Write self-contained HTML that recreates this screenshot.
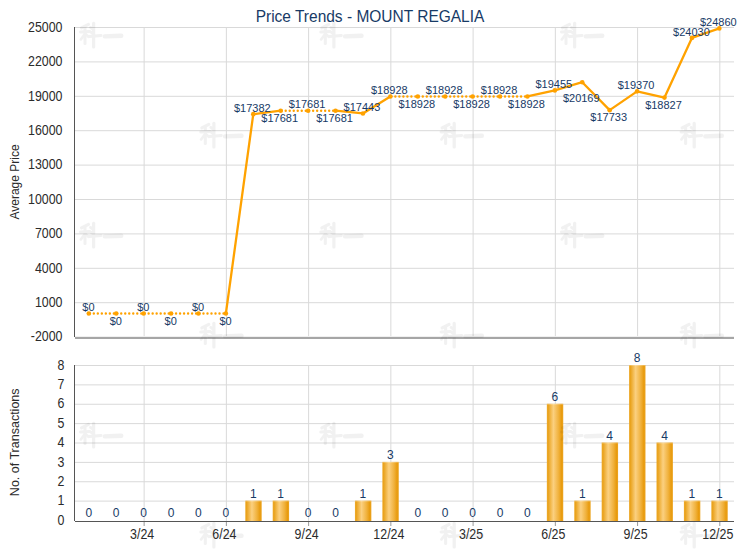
<!DOCTYPE html><html><head><meta charset="utf-8"><style>html,body{margin:0;padding:0;background:#fff;width:740px;height:550px;overflow:hidden}svg{display:block}text{font-family:"Liberation Sans", sans-serif}</style></head><body>
<svg width="740" height="550" viewBox="0 0 740 550">
<defs><linearGradient id="bg" x1="0" x2="1" y1="0" y2="0"><stop offset="0" stop-color="#eeab2e"/><stop offset="0.08" stop-color="#e9a21c"/><stop offset="0.40" stop-color="#fbd080"/><stop offset="0.72" stop-color="#f0b13c"/><stop offset="0.9" stop-color="#e89b0e"/><stop offset="1" stop-color="#eca523"/></linearGradient><g id="wm" fill="none" stroke="#000" stroke-linecap="round" stroke-linejoin="round"><path d="M8.5 2 L1.5 5.5" stroke-width="3"/><path d="M0.5 9.5 L9.5 9" stroke-width="3"/><path d="M5 5 L5 21" stroke-width="3"/><path d="M4.5 12 L0.8 17" stroke-width="2.6"/><path d="M6 12 L8.5 14.5" stroke-width="2.6"/><path d="M10.5 5 L12.5 6.5 M10.5 9.5 L12.5 11" stroke-width="2.8"/><path d="M9 14 L21 13" stroke-width="3"/><path d="M13.6 1 L13.6 24.5" stroke-width="3.2"/><path d="M24.8 14 L41.2 13.4" stroke-width="4.4"/></g></defs>
<line x1="75" y1="27.50" x2="734.0" y2="27.50" stroke="#d9d9d9" stroke-width="1"/>
<line x1="75" y1="61.90" x2="734.0" y2="61.90" stroke="#d9d9d9" stroke-width="1"/>
<line x1="75" y1="96.30" x2="734.0" y2="96.30" stroke="#d9d9d9" stroke-width="1"/>
<line x1="75" y1="130.70" x2="734.0" y2="130.70" stroke="#d9d9d9" stroke-width="1"/>
<line x1="75" y1="165.10" x2="734.0" y2="165.10" stroke="#d9d9d9" stroke-width="1"/>
<line x1="75" y1="199.50" x2="734.0" y2="199.50" stroke="#d9d9d9" stroke-width="1"/>
<line x1="75" y1="233.90" x2="734.0" y2="233.90" stroke="#d9d9d9" stroke-width="1"/>
<line x1="75" y1="268.30" x2="734.0" y2="268.30" stroke="#d9d9d9" stroke-width="1"/>
<line x1="75" y1="302.70" x2="734.0" y2="302.70" stroke="#d9d9d9" stroke-width="1"/>
<line x1="75" y1="337.10" x2="734.0" y2="337.10" stroke="#d9d9d9" stroke-width="1"/>
<line x1="144.13" y1="27.5" x2="144.13" y2="336.1" stroke="#d9d9d9" stroke-width="1"/>
<line x1="226.37" y1="27.5" x2="226.37" y2="336.1" stroke="#d9d9d9" stroke-width="1"/>
<line x1="308.61" y1="27.5" x2="308.61" y2="336.1" stroke="#d9d9d9" stroke-width="1"/>
<line x1="390.85" y1="27.5" x2="390.85" y2="336.1" stroke="#d9d9d9" stroke-width="1"/>
<line x1="473.10" y1="27.5" x2="473.10" y2="336.1" stroke="#d9d9d9" stroke-width="1"/>
<line x1="555.34" y1="27.5" x2="555.34" y2="336.1" stroke="#d9d9d9" stroke-width="1"/>
<line x1="637.58" y1="27.5" x2="637.58" y2="336.1" stroke="#d9d9d9" stroke-width="1"/>
<line x1="719.82" y1="27.5" x2="719.82" y2="336.1" stroke="#d9d9d9" stroke-width="1"/>
<line x1="75" y1="365.50" x2="734.0" y2="365.50" stroke="#d9d9d9" stroke-width="1"/>
<line x1="75" y1="384.88" x2="734.0" y2="384.88" stroke="#d9d9d9" stroke-width="1"/>
<line x1="75" y1="404.25" x2="734.0" y2="404.25" stroke="#d9d9d9" stroke-width="1"/>
<line x1="75" y1="423.62" x2="734.0" y2="423.62" stroke="#d9d9d9" stroke-width="1"/>
<line x1="75" y1="443.00" x2="734.0" y2="443.00" stroke="#d9d9d9" stroke-width="1"/>
<line x1="75" y1="462.38" x2="734.0" y2="462.38" stroke="#d9d9d9" stroke-width="1"/>
<line x1="75" y1="481.75" x2="734.0" y2="481.75" stroke="#d9d9d9" stroke-width="1"/>
<line x1="75" y1="501.12" x2="734.0" y2="501.12" stroke="#d9d9d9" stroke-width="1"/>
<line x1="144.13" y1="365.5" x2="144.13" y2="521.0" stroke="#d9d9d9" stroke-width="1"/>
<line x1="226.37" y1="365.5" x2="226.37" y2="521.0" stroke="#d9d9d9" stroke-width="1"/>
<line x1="308.61" y1="365.5" x2="308.61" y2="521.0" stroke="#d9d9d9" stroke-width="1"/>
<line x1="390.85" y1="365.5" x2="390.85" y2="521.0" stroke="#d9d9d9" stroke-width="1"/>
<line x1="473.10" y1="365.5" x2="473.10" y2="521.0" stroke="#d9d9d9" stroke-width="1"/>
<line x1="555.34" y1="365.5" x2="555.34" y2="521.0" stroke="#d9d9d9" stroke-width="1"/>
<line x1="637.58" y1="365.5" x2="637.58" y2="521.0" stroke="#d9d9d9" stroke-width="1"/>
<line x1="719.82" y1="365.5" x2="719.82" y2="521.0" stroke="#d9d9d9" stroke-width="1"/>
<rect x="245.28" y="500.62" width="16.40" height="20.88" fill="url(#bg)"/>
<rect x="245.28" y="500.62" width="16.40" height="1" fill="#ffffff" fill-opacity="0.25"/>
<rect x="272.70" y="500.62" width="16.40" height="20.88" fill="url(#bg)"/>
<rect x="272.70" y="500.62" width="16.40" height="1" fill="#ffffff" fill-opacity="0.25"/>
<rect x="354.94" y="500.62" width="16.40" height="20.88" fill="url(#bg)"/>
<rect x="354.94" y="500.62" width="16.40" height="1" fill="#ffffff" fill-opacity="0.25"/>
<rect x="382.35" y="461.88" width="16.40" height="59.62" fill="url(#bg)"/>
<rect x="382.35" y="461.88" width="16.40" height="1" fill="#ffffff" fill-opacity="0.25"/>
<rect x="546.84" y="403.75" width="16.40" height="117.75" fill="url(#bg)"/>
<rect x="546.84" y="403.75" width="16.40" height="1" fill="#ffffff" fill-opacity="0.25"/>
<rect x="574.25" y="500.62" width="16.40" height="20.88" fill="url(#bg)"/>
<rect x="574.25" y="500.62" width="16.40" height="1" fill="#ffffff" fill-opacity="0.25"/>
<rect x="601.67" y="442.50" width="16.40" height="79.00" fill="url(#bg)"/>
<rect x="601.67" y="442.50" width="16.40" height="1" fill="#ffffff" fill-opacity="0.25"/>
<rect x="629.08" y="365.00" width="16.40" height="156.50" fill="url(#bg)"/>
<rect x="629.08" y="365.00" width="16.40" height="1" fill="#ffffff" fill-opacity="0.25"/>
<rect x="656.49" y="442.50" width="16.40" height="79.00" fill="url(#bg)"/>
<rect x="656.49" y="442.50" width="16.40" height="1" fill="#ffffff" fill-opacity="0.25"/>
<rect x="683.91" y="500.62" width="16.40" height="20.88" fill="url(#bg)"/>
<rect x="683.91" y="500.62" width="16.40" height="1" fill="#ffffff" fill-opacity="0.25"/>
<rect x="711.32" y="500.62" width="16.40" height="20.88" fill="url(#bg)"/>
<rect x="711.32" y="500.62" width="16.40" height="1" fill="#ffffff" fill-opacity="0.25"/>
<line x1="74.5" y1="27" x2="74.5" y2="337" stroke="#555555" stroke-width="1"/>
<line x1="75" y1="338" x2="734.0" y2="338" stroke="#a6a6a6" stroke-width="2"/>
<line x1="144.13" y1="522" x2="144.13" y2="526" stroke="#9a9a9a" stroke-width="1"/>
<line x1="226.37" y1="522" x2="226.37" y2="526" stroke="#9a9a9a" stroke-width="1"/>
<line x1="308.61" y1="522" x2="308.61" y2="526" stroke="#9a9a9a" stroke-width="1"/>
<line x1="390.85" y1="522" x2="390.85" y2="526" stroke="#9a9a9a" stroke-width="1"/>
<line x1="473.10" y1="522" x2="473.10" y2="526" stroke="#9a9a9a" stroke-width="1"/>
<line x1="555.34" y1="522" x2="555.34" y2="526" stroke="#9a9a9a" stroke-width="1"/>
<line x1="637.58" y1="522" x2="637.58" y2="526" stroke="#9a9a9a" stroke-width="1"/>
<line x1="719.82" y1="522" x2="719.82" y2="526" stroke="#9a9a9a" stroke-width="1"/>
<line x1="74.5" y1="365" x2="74.5" y2="521" stroke="#555555" stroke-width="1"/>
<line x1="75" y1="521.5" x2="734.0" y2="521.5" stroke="#555555" stroke-width="1"/>
<line x1="88.80" y1="313.47" x2="116.21" y2="313.47" stroke="#ffa200" stroke-width="2.4" stroke-dasharray="0.01 4" stroke-linecap="round" stroke-dashoffset="-1"/>
<line x1="116.21" y1="313.47" x2="143.63" y2="313.47" stroke="#ffa200" stroke-width="2.4" stroke-dasharray="0.01 4" stroke-linecap="round" stroke-dashoffset="-1"/>
<line x1="143.63" y1="313.47" x2="171.04" y2="313.47" stroke="#ffa200" stroke-width="2.4" stroke-dasharray="0.01 4" stroke-linecap="round" stroke-dashoffset="-1"/>
<line x1="171.04" y1="313.47" x2="198.46" y2="313.47" stroke="#ffa200" stroke-width="2.4" stroke-dasharray="0.01 4" stroke-linecap="round" stroke-dashoffset="-1"/>
<line x1="198.46" y1="313.47" x2="225.87" y2="313.47" stroke="#ffa200" stroke-width="2.4" stroke-dasharray="0.01 4" stroke-linecap="round" stroke-dashoffset="-1"/>
<line x1="225.87" y1="313.47" x2="253.28" y2="114.15" stroke="#ffa200" stroke-width="2.3" stroke-linecap="round"/>
<line x1="253.28" y1="114.15" x2="280.70" y2="110.72" stroke="#ffa200" stroke-width="2.3" stroke-linecap="round"/>
<line x1="280.70" y1="110.72" x2="308.11" y2="110.72" stroke="#ffa200" stroke-width="2.4" stroke-dasharray="0.01 4" stroke-linecap="round" stroke-dashoffset="-1"/>
<line x1="308.11" y1="110.72" x2="335.53" y2="110.72" stroke="#ffa200" stroke-width="2.4" stroke-dasharray="0.01 4" stroke-linecap="round" stroke-dashoffset="-1"/>
<line x1="335.53" y1="110.72" x2="362.94" y2="113.45" stroke="#ffa200" stroke-width="2.3" stroke-linecap="round"/>
<line x1="362.94" y1="113.45" x2="390.35" y2="96.43" stroke="#ffa200" stroke-width="2.3" stroke-linecap="round"/>
<line x1="390.35" y1="96.43" x2="417.77" y2="96.43" stroke="#ffa200" stroke-width="2.4" stroke-dasharray="0.01 4" stroke-linecap="round" stroke-dashoffset="-1"/>
<line x1="417.77" y1="96.43" x2="445.18" y2="96.43" stroke="#ffa200" stroke-width="2.4" stroke-dasharray="0.01 4" stroke-linecap="round" stroke-dashoffset="-1"/>
<line x1="445.18" y1="96.43" x2="472.60" y2="96.43" stroke="#ffa200" stroke-width="2.4" stroke-dasharray="0.01 4" stroke-linecap="round" stroke-dashoffset="-1"/>
<line x1="472.60" y1="96.43" x2="500.01" y2="96.43" stroke="#ffa200" stroke-width="2.4" stroke-dasharray="0.01 4" stroke-linecap="round" stroke-dashoffset="-1"/>
<line x1="500.01" y1="96.43" x2="527.42" y2="96.43" stroke="#ffa200" stroke-width="2.4" stroke-dasharray="0.01 4" stroke-linecap="round" stroke-dashoffset="-1"/>
<line x1="527.42" y1="96.43" x2="554.84" y2="90.38" stroke="#ffa200" stroke-width="2.3" stroke-linecap="round"/>
<line x1="554.84" y1="90.38" x2="582.25" y2="82.20" stroke="#ffa200" stroke-width="2.3" stroke-linecap="round"/>
<line x1="582.25" y1="82.20" x2="609.67" y2="110.13" stroke="#ffa200" stroke-width="2.3" stroke-linecap="round"/>
<line x1="609.67" y1="110.13" x2="637.08" y2="91.36" stroke="#ffa200" stroke-width="2.3" stroke-linecap="round"/>
<line x1="637.08" y1="91.36" x2="664.49" y2="97.58" stroke="#ffa200" stroke-width="2.3" stroke-linecap="round"/>
<line x1="664.49" y1="97.58" x2="691.91" y2="37.92" stroke="#ffa200" stroke-width="2.3" stroke-linecap="round"/>
<line x1="691.91" y1="37.92" x2="719.32" y2="28.41" stroke="#ffa200" stroke-width="2.3" stroke-linecap="round"/>
<circle cx="88.80" cy="313.47" r="2.3" fill="#ffa200"/>
<circle cx="116.21" cy="313.47" r="2.3" fill="#ffa200"/>
<circle cx="143.63" cy="313.47" r="2.3" fill="#ffa200"/>
<circle cx="171.04" cy="313.47" r="2.3" fill="#ffa200"/>
<circle cx="198.46" cy="313.47" r="2.3" fill="#ffa200"/>
<circle cx="225.87" cy="313.47" r="2.3" fill="#ffa200"/>
<circle cx="253.28" cy="114.15" r="2.3" fill="#ffa200"/>
<circle cx="280.70" cy="110.72" r="2.3" fill="#ffa200"/>
<circle cx="308.11" cy="110.72" r="2.3" fill="#ffa200"/>
<circle cx="335.53" cy="110.72" r="2.3" fill="#ffa200"/>
<circle cx="362.94" cy="113.45" r="2.3" fill="#ffa200"/>
<circle cx="390.35" cy="96.43" r="2.3" fill="#ffa200"/>
<circle cx="417.77" cy="96.43" r="2.3" fill="#ffa200"/>
<circle cx="445.18" cy="96.43" r="2.3" fill="#ffa200"/>
<circle cx="472.60" cy="96.43" r="2.3" fill="#ffa200"/>
<circle cx="500.01" cy="96.43" r="2.3" fill="#ffa200"/>
<circle cx="527.42" cy="96.43" r="2.3" fill="#ffa200"/>
<circle cx="554.84" cy="90.38" r="2.3" fill="#ffa200"/>
<circle cx="582.25" cy="82.20" r="2.3" fill="#ffa200"/>
<circle cx="609.67" cy="110.13" r="2.3" fill="#ffa200"/>
<circle cx="637.08" cy="91.36" r="2.3" fill="#ffa200"/>
<circle cx="664.49" cy="97.58" r="2.3" fill="#ffa200"/>
<circle cx="691.91" cy="37.92" r="2.3" fill="#ffa200"/>
<circle cx="719.32" cy="28.41" r="2.3" fill="#ffa200"/>
<use href="#wm" x="80.0" y="22.4" opacity="0.05"/>
<use href="#wm" x="320.3" y="22.4" opacity="0.05"/>
<use href="#wm" x="561.0" y="22.4" opacity="0.05"/>
<use href="#wm" x="200.3" y="122.4" opacity="0.05"/>
<use href="#wm" x="440.6" y="122.4" opacity="0.05"/>
<use href="#wm" x="680.6" y="122.4" opacity="0.05"/>
<use href="#wm" x="80.0" y="222.4" opacity="0.05"/>
<use href="#wm" x="320.3" y="222.4" opacity="0.05"/>
<use href="#wm" x="561.0" y="222.4" opacity="0.05"/>
<use href="#wm" x="200.3" y="322.4" opacity="0.05"/>
<use href="#wm" x="440.6" y="322.4" opacity="0.05"/>
<use href="#wm" x="680.6" y="322.4" opacity="0.05"/>
<use href="#wm" x="80.0" y="422.4" opacity="0.05"/>
<use href="#wm" x="320.3" y="422.4" opacity="0.05"/>
<use href="#wm" x="561.0" y="422.4" opacity="0.05"/>
<use href="#wm" x="200.3" y="522.4" opacity="0.05"/>
<use href="#wm" x="440.6" y="522.4" opacity="0.05"/>
<use href="#wm" x="680.6" y="522.4" opacity="0.05"/>
<text transform="translate(370,21.9) scale(1,1.09)" text-anchor="middle" font-size="15.5" fill="#173a66">Price Trends - MOUNT REGALIA</text>
<text transform="translate(62.5,31.70) scale(1,1.17)" text-anchor="end" font-size="12.4" fill="#2b2b2b">25000</text>
<text transform="translate(62.5,66.10) scale(1,1.17)" text-anchor="end" font-size="12.4" fill="#2b2b2b">22000</text>
<text transform="translate(62.5,100.50) scale(1,1.17)" text-anchor="end" font-size="12.4" fill="#2b2b2b">19000</text>
<text transform="translate(62.5,134.90) scale(1,1.17)" text-anchor="end" font-size="12.4" fill="#2b2b2b">16000</text>
<text transform="translate(62.5,169.30) scale(1,1.17)" text-anchor="end" font-size="12.4" fill="#2b2b2b">13000</text>
<text transform="translate(62.5,203.70) scale(1,1.17)" text-anchor="end" font-size="12.4" fill="#2b2b2b">10000</text>
<text transform="translate(62.5,238.10) scale(1,1.17)" text-anchor="end" font-size="12.4" fill="#2b2b2b">7000</text>
<text transform="translate(62.5,272.50) scale(1,1.17)" text-anchor="end" font-size="12.4" fill="#2b2b2b">4000</text>
<text transform="translate(62.5,306.90) scale(1,1.17)" text-anchor="end" font-size="12.4" fill="#2b2b2b">1000</text>
<text transform="translate(62.5,341.30) scale(1,1.17)" text-anchor="end" font-size="12.4" fill="#2b2b2b">-2000</text>
<text transform="translate(18.6,182) rotate(-90)" text-anchor="middle" font-size="12" fill="#2b2b2b">Average Price</text>
<text x="88.45" y="310.97" text-anchor="middle" font-size="11" fill="#173a66">$0</text>
<text x="115.86" y="324.97" text-anchor="middle" font-size="11" fill="#173a66">$0</text>
<text x="143.28" y="310.97" text-anchor="middle" font-size="11" fill="#173a66">$0</text>
<text x="170.69" y="324.97" text-anchor="middle" font-size="11" fill="#173a66">$0</text>
<text x="198.11" y="310.97" text-anchor="middle" font-size="11" fill="#173a66">$0</text>
<text x="225.52" y="324.97" text-anchor="middle" font-size="11" fill="#173a66">$0</text>
<text x="252.28" y="111.65" text-anchor="middle" font-size="11" fill="#173a66">$17382</text>
<text x="279.70" y="122.22" text-anchor="middle" font-size="11" fill="#173a66">$17681</text>
<text x="307.11" y="108.22" text-anchor="middle" font-size="11" fill="#173a66">$17681</text>
<text x="334.53" y="122.22" text-anchor="middle" font-size="11" fill="#173a66">$17681</text>
<text x="361.94" y="110.95" text-anchor="middle" font-size="11" fill="#173a66">$17443</text>
<text x="389.35" y="93.93" text-anchor="middle" font-size="11" fill="#173a66">$18928</text>
<text x="416.77" y="107.93" text-anchor="middle" font-size="11" fill="#173a66">$18928</text>
<text x="444.18" y="93.93" text-anchor="middle" font-size="11" fill="#173a66">$18928</text>
<text x="471.60" y="107.93" text-anchor="middle" font-size="11" fill="#173a66">$18928</text>
<text x="499.01" y="93.93" text-anchor="middle" font-size="11" fill="#173a66">$18928</text>
<text x="526.42" y="107.93" text-anchor="middle" font-size="11" fill="#173a66">$18928</text>
<text x="553.84" y="87.88" text-anchor="middle" font-size="11" fill="#173a66">$19455</text>
<text x="581.25" y="101.70" text-anchor="middle" font-size="11" fill="#173a66">$20169</text>
<text x="608.67" y="121.00" text-anchor="middle" font-size="11" fill="#173a66">$17733</text>
<text x="636.08" y="88.86" text-anchor="middle" font-size="11" fill="#173a66">$19370</text>
<text x="663.49" y="109.08" text-anchor="middle" font-size="11" fill="#173a66">$18827</text>
<text x="691.41" y="36.00" text-anchor="middle" font-size="11" fill="#173a66">$24030</text>
<text x="718.32" y="25.91" text-anchor="middle" font-size="11" fill="#173a66">$24860</text>
<text transform="translate(64.3,369.70) scale(1,1.17)" text-anchor="end" font-size="12.4" fill="#2b2b2b">8</text>
<text transform="translate(64.3,389.07) scale(1,1.17)" text-anchor="end" font-size="12.4" fill="#2b2b2b">7</text>
<text transform="translate(64.3,408.45) scale(1,1.17)" text-anchor="end" font-size="12.4" fill="#2b2b2b">6</text>
<text transform="translate(64.3,427.82) scale(1,1.17)" text-anchor="end" font-size="12.4" fill="#2b2b2b">5</text>
<text transform="translate(64.3,447.20) scale(1,1.17)" text-anchor="end" font-size="12.4" fill="#2b2b2b">4</text>
<text transform="translate(64.3,466.57) scale(1,1.17)" text-anchor="end" font-size="12.4" fill="#2b2b2b">3</text>
<text transform="translate(64.3,485.95) scale(1,1.17)" text-anchor="end" font-size="12.4" fill="#2b2b2b">2</text>
<text transform="translate(64.3,505.32) scale(1,1.17)" text-anchor="end" font-size="12.4" fill="#2b2b2b">1</text>
<text transform="translate(64.3,524.70) scale(1,1.17)" text-anchor="end" font-size="12.4" fill="#2b2b2b">0</text>
<text transform="translate(19,442.3) rotate(-90)" text-anchor="middle" font-size="12.5" fill="#2b2b2b">No. of Transactions</text>
<text x="88.80" y="517.10" text-anchor="middle" font-size="12" fill="#173a66">0</text>
<text x="116.21" y="517.10" text-anchor="middle" font-size="12" fill="#173a66">0</text>
<text x="143.63" y="517.10" text-anchor="middle" font-size="12" fill="#173a66">0</text>
<text x="171.04" y="517.10" text-anchor="middle" font-size="12" fill="#173a66">0</text>
<text x="198.46" y="517.10" text-anchor="middle" font-size="12" fill="#173a66">0</text>
<text x="225.87" y="517.10" text-anchor="middle" font-size="12" fill="#173a66">0</text>
<text x="253.28" y="497.73" text-anchor="middle" font-size="12" fill="#173a66">1</text>
<text x="280.70" y="497.73" text-anchor="middle" font-size="12" fill="#173a66">1</text>
<text x="308.11" y="517.10" text-anchor="middle" font-size="12" fill="#173a66">0</text>
<text x="335.53" y="517.10" text-anchor="middle" font-size="12" fill="#173a66">0</text>
<text x="362.94" y="497.73" text-anchor="middle" font-size="12" fill="#173a66">1</text>
<text x="390.35" y="458.98" text-anchor="middle" font-size="12" fill="#173a66">3</text>
<text x="417.77" y="517.10" text-anchor="middle" font-size="12" fill="#173a66">0</text>
<text x="445.18" y="517.10" text-anchor="middle" font-size="12" fill="#173a66">0</text>
<text x="472.60" y="517.10" text-anchor="middle" font-size="12" fill="#173a66">0</text>
<text x="500.01" y="517.10" text-anchor="middle" font-size="12" fill="#173a66">0</text>
<text x="527.42" y="517.10" text-anchor="middle" font-size="12" fill="#173a66">0</text>
<text x="554.84" y="400.85" text-anchor="middle" font-size="12" fill="#173a66">6</text>
<text x="582.25" y="497.73" text-anchor="middle" font-size="12" fill="#173a66">1</text>
<text x="609.67" y="439.60" text-anchor="middle" font-size="12" fill="#173a66">4</text>
<text x="637.08" y="362.10" text-anchor="middle" font-size="12" fill="#173a66">8</text>
<text x="664.49" y="439.60" text-anchor="middle" font-size="12" fill="#173a66">4</text>
<text x="691.91" y="497.73" text-anchor="middle" font-size="12" fill="#173a66">1</text>
<text x="719.32" y="497.73" text-anchor="middle" font-size="12" fill="#173a66">1</text>
<text transform="translate(142.13,538.8) scale(1,1.17)" text-anchor="middle" font-size="12.4" fill="#2b2b2b">3/24</text>
<text transform="translate(224.37,538.8) scale(1,1.17)" text-anchor="middle" font-size="12.4" fill="#2b2b2b">6/24</text>
<text transform="translate(306.61,538.8) scale(1,1.17)" text-anchor="middle" font-size="12.4" fill="#2b2b2b">9/24</text>
<text transform="translate(388.85,538.8) scale(1,1.17)" text-anchor="middle" font-size="12.4" fill="#2b2b2b">12/24</text>
<text transform="translate(471.10,538.8) scale(1,1.17)" text-anchor="middle" font-size="12.4" fill="#2b2b2b">3/25</text>
<text transform="translate(553.34,538.8) scale(1,1.17)" text-anchor="middle" font-size="12.4" fill="#2b2b2b">6/25</text>
<text transform="translate(635.58,538.8) scale(1,1.17)" text-anchor="middle" font-size="12.4" fill="#2b2b2b">9/25</text>
<text transform="translate(717.82,538.8) scale(1,1.17)" text-anchor="middle" font-size="12.4" fill="#2b2b2b">12/25</text>
</svg></body></html>
